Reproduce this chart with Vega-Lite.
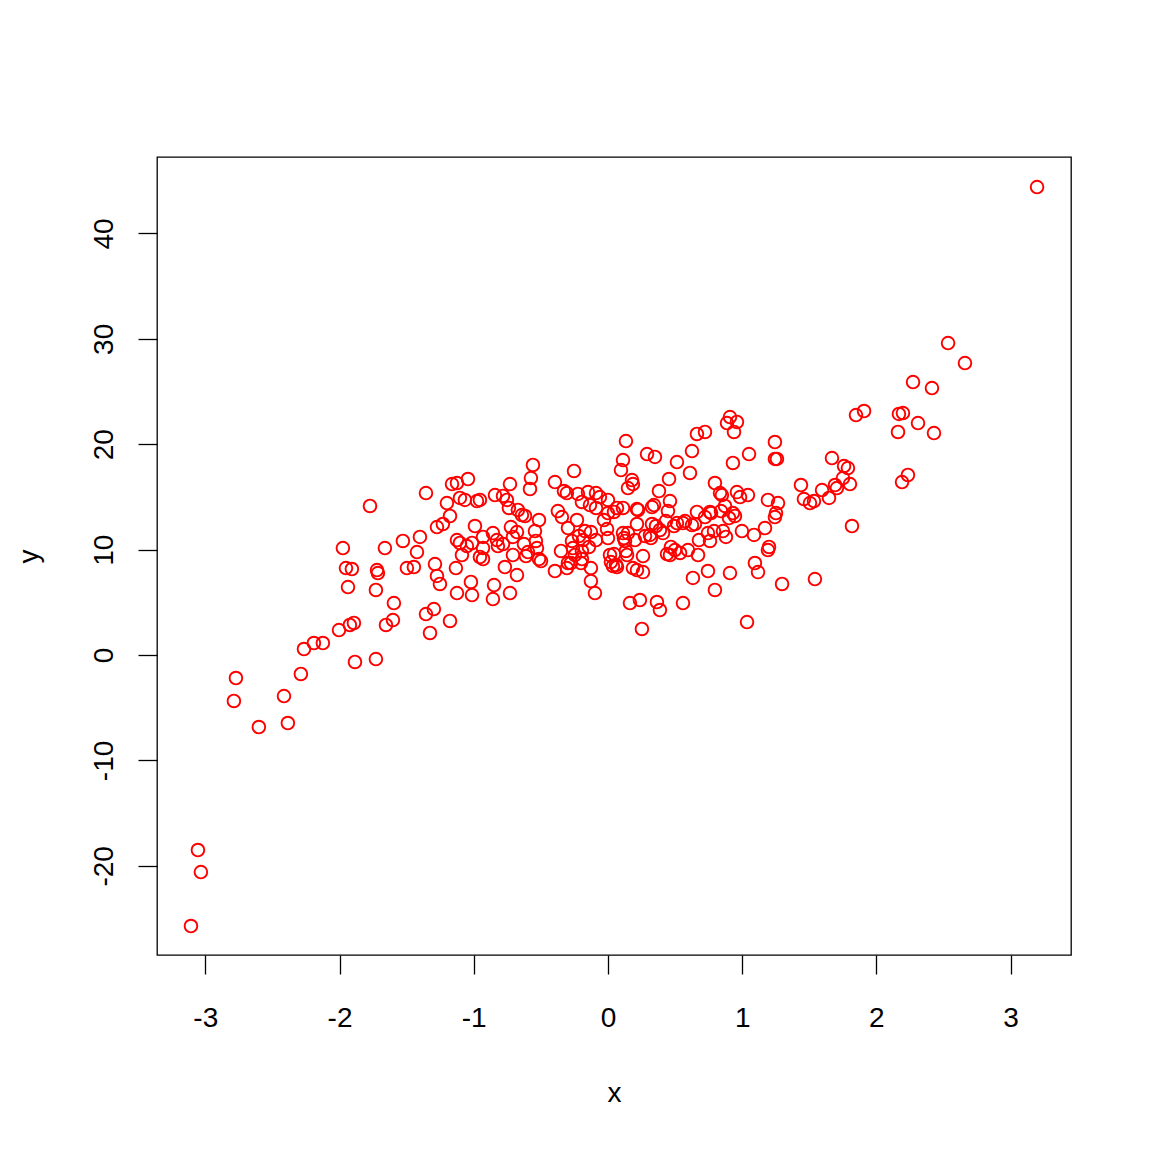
{
  "$schema": "https://vega.github.io/schema/vega-lite/v6.json",
  "width": 914,
  "height": 798,
  "autosize": "none",
  "padding": {"left": 157, "top": 157, "right": 81, "bottom": 197},
  "background": "white",
  "config": {
    "view": {"stroke": "black", "strokeWidth": 1.3},
    "font": "Liberation Sans",
    "axis": {
      "grid": false,
      "domain": false,
      "tickColor": "black",
      "tickWidth": 1.3,
      "tickSize": 19,
      "labelFont": "Liberation Sans",
      "labelFontSize": 28,
      "labelColor": "black",
      "titleFont": "Liberation Sans",
      "titleFontSize": 28,
      "titleFontWeight": "normal",
      "titleColor": "black"
    }
  },
  "data": {"values": [
    {"x": -3.107, "y": -25.71}, {"x": -3.055, "y": -18.50}, {"x": -3.033, "y": -20.59}, {"x": -2.787, "y": -4.36},
    {"x": -2.772, "y": -2.18}, {"x": -2.601, "y": -6.83}, {"x": -2.414, "y": -3.89}, {"x": -2.385, "y": -6.45},
    {"x": -2.288, "y": -1.80}, {"x": -2.265, "y": 0.57}, {"x": -2.191, "y": 1.14}, {"x": -2.124, "y": 1.14},
    {"x": -2.004, "y": 2.37}, {"x": -1.975, "y": 10.15}, {"x": -1.952, "y": 8.25}, {"x": -1.908, "y": 8.16},
    {"x": -1.937, "y": 6.45}, {"x": -1.923, "y": 2.85}, {"x": -1.893, "y": 3.04}, {"x": -1.885, "y": -0.66},
    {"x": -1.773, "y": 14.14}, {"x": -1.729, "y": -0.38}, {"x": -1.721, "y": 8.06}, {"x": -1.714, "y": 7.78},
    {"x": -1.729, "y": 6.17}, {"x": -1.662, "y": 10.15}, {"x": -1.654, "y": 2.85}, {"x": -1.602, "y": 3.32},
    {"x": -1.595, "y": 4.93}, {"x": -1.528, "y": 10.82}, {"x": -1.498, "y": 8.25}, {"x": -1.446, "y": 8.35},
    {"x": -1.423, "y": 9.77}, {"x": -1.401, "y": 11.20}, {"x": -1.356, "y": 15.37}, {"x": -1.356, "y": 3.89},
    {"x": -1.326, "y": 2.09}, {"x": -1.297, "y": 4.36}, {"x": -1.289, "y": 8.63}, {"x": -1.274, "y": 7.50},
    {"x": -1.274, "y": 12.14}, {"x": -1.252, "y": 6.74}, {"x": -1.230, "y": 12.43}, {"x": -1.200, "y": 14.42},
    {"x": -1.177, "y": 13.19}, {"x": -1.177, "y": 3.23}, {"x": -1.162, "y": 16.22}, {"x": -1.125, "y": 10.91},
    {"x": -1.133, "y": 8.25}, {"x": -1.125, "y": 16.32}, {"x": -1.103, "y": 10.63}, {"x": -1.125, "y": 5.88},
    {"x": -1.103, "y": 14.90}, {"x": -1.066, "y": 14.71}, {"x": -1.043, "y": 16.70}, {"x": -1.051, "y": 10.34},
    {"x": -1.021, "y": 6.93}, {"x": -1.013, "y": 5.69}, {"x": -1.088, "y": 9.49}, {"x": -1.013, "y": 10.63},
    {"x": -0.991, "y": 12.24}, {"x": -0.976, "y": 14.61}, {"x": -0.954, "y": 14.71}, {"x": -0.931, "y": 11.20},
    {"x": -0.931, "y": 9.11}, {"x": -0.931, "y": 10.15}, {"x": -0.842, "y": 15.18}, {"x": -0.857, "y": 11.57},
    {"x": -0.827, "y": 10.91}, {"x": -0.849, "y": 6.64}, {"x": -0.857, "y": 5.31}, {"x": -0.954, "y": 9.30},
    {"x": -0.820, "y": 10.34}, {"x": -0.782, "y": 10.53}, {"x": -0.782, "y": 15.09}, {"x": -0.768, "y": 8.35},
    {"x": -0.753, "y": 14.71}, {"x": -0.738, "y": 13.95}, {"x": -0.730, "y": 16.22}, {"x": -0.730, "y": 5.88},
    {"x": -0.723, "y": 12.14}, {"x": -0.708, "y": 11.20}, {"x": -0.708, "y": 9.49}, {"x": -0.678, "y": 7.59},
    {"x": -0.671, "y": 13.76}, {"x": -0.678, "y": 11.67}, {"x": -0.641, "y": 13.28}, {"x": -0.626, "y": 10.53},
    {"x": -0.611, "y": 9.39}, {"x": -0.596, "y": 9.77}, {"x": -0.581, "y": 15.75}, {"x": -0.574, "y": 16.79},
    {"x": -0.559, "y": 18.03}, {"x": -0.544, "y": 11.76}, {"x": -0.537, "y": 10.82}, {"x": -0.529, "y": 10.15},
    {"x": -0.514, "y": 12.81}, {"x": -0.514, "y": 9.11}, {"x": -0.499, "y": 8.92}, {"x": -0.618, "y": 13.19},
    {"x": -0.395, "y": 7.97}, {"x": -0.395, "y": 16.41}, {"x": -0.373, "y": 13.66}, {"x": -0.350, "y": 9.87},
    {"x": -0.343, "y": 13.09}, {"x": -0.328, "y": 15.56}, {"x": -0.306, "y": 15.37}, {"x": -0.306, "y": 8.25},
    {"x": -0.298, "y": 12.05}, {"x": -0.298, "y": 8.73}, {"x": -0.268, "y": 10.82}, {"x": -0.261, "y": 10.15},
    {"x": -0.253, "y": 17.46}, {"x": -0.246, "y": 9.49}, {"x": -0.231, "y": 12.81}, {"x": -0.224, "y": 15.28},
    {"x": -0.216, "y": 11.29}, {"x": -0.201, "y": 8.73}, {"x": -0.194, "y": 9.11}, {"x": -0.194, "y": 9.87},
    {"x": -0.186, "y": 10.91}, {"x": -0.171, "y": 11.76}, {"x": -0.149, "y": 15.46}, {"x": -0.142, "y": 10.25},
    {"x": -0.127, "y": 8.25}, {"x": -0.127, "y": 11.67}, {"x": -0.127, "y": 7.02}, {"x": -0.194, "y": 14.52},
    {"x": -0.097, "y": 5.88}, {"x": -0.089, "y": 15.37}, {"x": -0.060, "y": 14.99}, {"x": -0.089, "y": 13.95},
    {"x": -0.134, "y": 14.23}, {"x": -0.089, "y": 10.91}, {"x": -0.030, "y": 12.81}, {"x": 0.000, "y": 14.71},
    {"x": -0.007, "y": 11.95}, {"x": 0.000, "y": 11.10}, {"x": 0.000, "y": 13.47}, {"x": 0.015, "y": 9.49},
    {"x": 0.022, "y": 8.82}, {"x": 0.037, "y": 8.44}, {"x": 0.045, "y": 9.58}, {"x": 0.045, "y": 13.57},
    {"x": 0.067, "y": 8.35}, {"x": 0.067, "y": 13.95}, {"x": 0.097, "y": 17.55}, {"x": 0.112, "y": 18.50},
    {"x": 0.112, "y": 13.95}, {"x": 0.112, "y": 11.57}, {"x": 0.119, "y": 11.10}, {"x": 0.127, "y": 10.82},
    {"x": 0.134, "y": 20.30}, {"x": 0.134, "y": 9.87}, {"x": 0.142, "y": 9.49}, {"x": 0.149, "y": 15.84},
    {"x": 0.149, "y": 11.57}, {"x": 0.164, "y": 4.93}, {"x": 0.179, "y": 16.60}, {"x": 0.186, "y": 16.22},
    {"x": 0.186, "y": 8.25}, {"x": 0.201, "y": 10.91}, {"x": 0.216, "y": 13.85}, {"x": 0.216, "y": 12.43},
    {"x": 0.216, "y": 8.06}, {"x": 0.238, "y": 5.22}, {"x": 0.253, "y": 2.47}, {"x": 0.261, "y": 7.87},
    {"x": 0.261, "y": 9.39}, {"x": 0.276, "y": 11.29}, {"x": 0.291, "y": 19.07}, {"x": 0.313, "y": 11.39},
    {"x": 0.320, "y": 11.10}, {"x": 0.328, "y": 12.43}, {"x": 0.343, "y": 14.23}, {"x": 0.350, "y": 18.79},
    {"x": 0.358, "y": 12.24}, {"x": 0.365, "y": 5.03}, {"x": 0.380, "y": 15.56}, {"x": 0.387, "y": 11.86},
    {"x": 0.387, "y": 4.27}, {"x": 0.410, "y": 11.57}, {"x": 0.432, "y": 12.71}, {"x": 0.455, "y": 16.70},
    {"x": 0.440, "y": 9.58}, {"x": 0.447, "y": 13.66}, {"x": 0.462, "y": 14.61}, {"x": 0.469, "y": 10.25},
    {"x": 0.492, "y": 12.24}, {"x": 0.514, "y": 18.31}, {"x": 0.499, "y": 9.96}, {"x": 0.514, "y": 12.52},
    {"x": 0.537, "y": 9.68}, {"x": 0.559, "y": 4.93}, {"x": 0.559, "y": 12.52}, {"x": 0.574, "y": 12.71},
    {"x": 0.596, "y": 9.96}, {"x": 0.611, "y": 17.27}, {"x": 0.626, "y": 19.35}, {"x": 0.626, "y": 12.33},
    {"x": 0.633, "y": 7.31}, {"x": 0.663, "y": 20.97}, {"x": 0.648, "y": 12.43}, {"x": 0.663, "y": 13.57},
    {"x": 0.671, "y": 9.49}, {"x": 0.678, "y": 10.91}, {"x": 0.723, "y": 21.16}, {"x": 0.723, "y": 13.09},
    {"x": 0.745, "y": 7.97}, {"x": 0.745, "y": 11.57}, {"x": 0.760, "y": 10.82}, {"x": 0.768, "y": 13.47},
    {"x": 0.797, "y": 16.32}, {"x": 0.790, "y": 11.76}, {"x": 0.797, "y": 6.17}, {"x": 0.835, "y": 15.37},
    {"x": 0.849, "y": 15.18}, {"x": 0.842, "y": 13.66}, {"x": 0.857, "y": 11.76}, {"x": 0.872, "y": 14.14},
    {"x": 0.879, "y": 11.20}, {"x": 0.887, "y": 22.01}, {"x": 0.902, "y": 13.00}, {"x": 0.909, "y": 7.78},
    {"x": 0.909, "y": 22.58}, {"x": 0.931, "y": 18.22}, {"x": 0.931, "y": 13.47}, {"x": 0.939, "y": 21.16},
    {"x": 0.946, "y": 13.19}, {"x": 0.961, "y": 15.46}, {"x": 0.961, "y": 22.11}, {"x": 0.984, "y": 14.99},
    {"x": 0.998, "y": 11.76}, {"x": 1.036, "y": 3.13}, {"x": 1.043, "y": 15.18}, {"x": 1.051, "y": 19.07},
    {"x": 1.088, "y": 11.39}, {"x": 1.095, "y": 8.73}, {"x": 1.118, "y": 7.87}, {"x": 1.170, "y": 12.05},
    {"x": 1.192, "y": 14.71}, {"x": 1.200, "y": 10.25}, {"x": 1.244, "y": 20.21}, {"x": 1.244, "y": 18.60},
    {"x": 1.259, "y": 18.60}, {"x": 1.244, "y": 13.09}, {"x": 1.252, "y": 13.47}, {"x": 1.267, "y": 14.42},
    {"x": 1.297, "y": 6.74}, {"x": 1.438, "y": 16.13}, {"x": 1.460, "y": 14.80}, {"x": 1.505, "y": 14.42},
    {"x": 1.535, "y": 14.61}, {"x": 1.542, "y": 7.21}, {"x": 1.595, "y": 15.65}, {"x": 1.647, "y": 14.90},
    {"x": 1.669, "y": 18.69}, {"x": 1.692, "y": 16.13}, {"x": 1.706, "y": 15.84}, {"x": 1.759, "y": 17.93},
    {"x": 1.788, "y": 17.74}, {"x": 1.751, "y": 16.79}, {"x": 1.803, "y": 16.22}, {"x": 1.818, "y": 12.24},
    {"x": 1.848, "y": 22.77}, {"x": 1.908, "y": 23.15}, {"x": 2.161, "y": 21.16}, {"x": 2.168, "y": 22.87},
    {"x": 2.198, "y": 22.96}, {"x": 2.191, "y": 16.41}, {"x": 2.235, "y": 17.08}, {"x": 2.273, "y": 25.90},
    {"x": 2.310, "y": 22.01}, {"x": 2.414, "y": 25.33}, {"x": 2.429, "y": 21.06}, {"x": 2.534, "y": 29.60},
    {"x": 2.660, "y": 27.70}, {"x": 3.197, "y": 44.40}, {"x": 0.328, "y": 14.04}, {"x": 0.224, "y": 13.76},
    {"x": 0.760, "y": 13.57}, {"x": 0.462, "y": 9.49}, {"x": 1.192, "y": 9.96}, {"x": 0.060, "y": 8.54},
    {"x": -0.276, "y": 8.73}
  ]},
  "mark": {"type": "point", "shape": "circle", "filled": false, "stroke": "#ff0000", "strokeWidth": 1.9, "size": 160, "opacity": 1},
  "encoding": {
    "x": {
      "field": "x", "type": "quantitative",
      "scale": {"domain": [-3.36, 3.45], "nice": false, "zero": false},
      "axis": {"values": [-3, -2, -1, 0, 1, 2, 3], "labelExpr": "replace(datum.label, '\u2212', '-')", "labelBaseline": "alphabetic", "labelPadding": 52, "title": "x", "titleBaseline": "alphabetic", "titleY": 146}
    },
    "y": {
      "field": "y", "type": "quantitative",
      "scale": {"domain": [-28.46, 47.25], "nice": false, "zero": false},
      "axis": {"values": [-20, -10, 0, 10, 20, 30, 40], "labelExpr": "replace(datum.label, '\u2212', '-')", "labelAngle": -90, "labelAlign": "center", "labelBaseline": "alphabetic", "labelPadding": 26, "title": "y", "titleAngle": -90, "titleBaseline": "alphabetic", "titleX": -120}
    }
  }
}
